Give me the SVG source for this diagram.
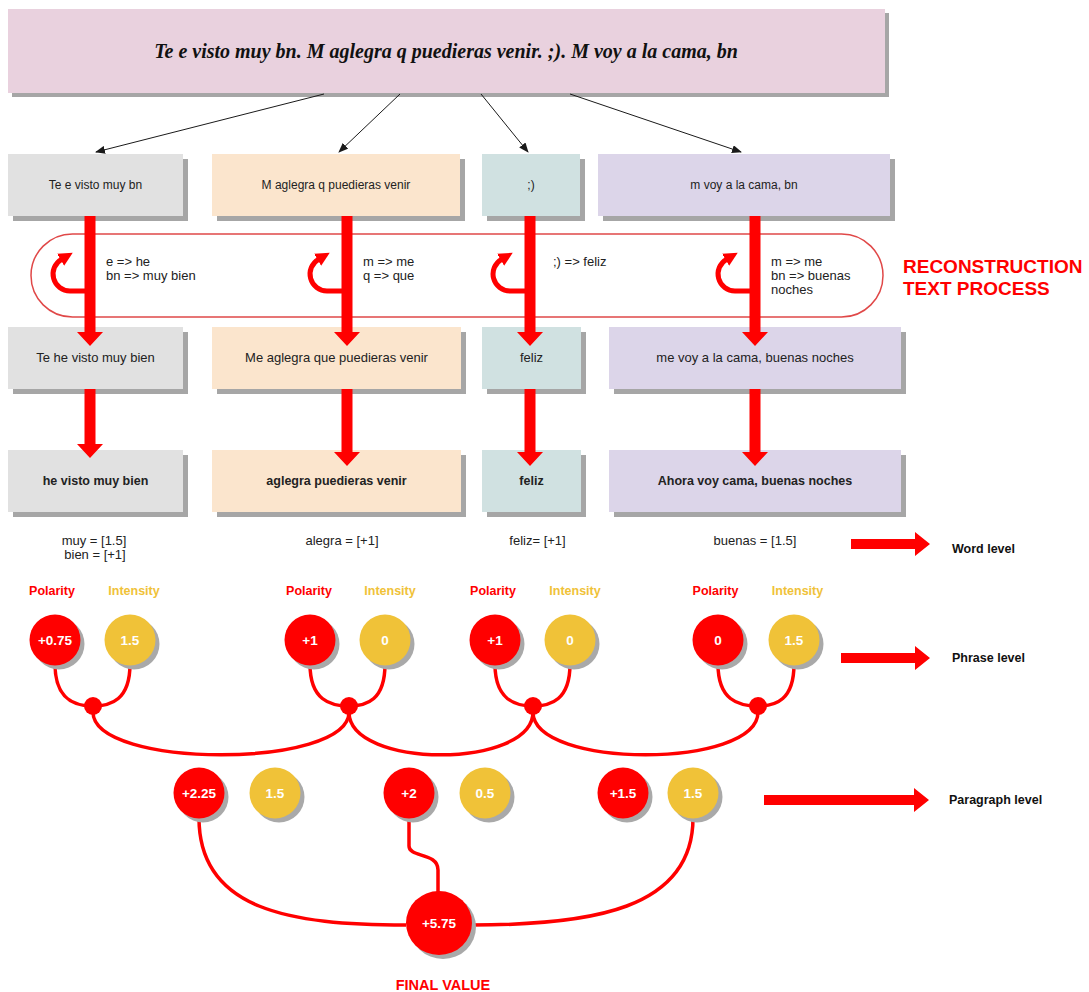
<svg xmlns="http://www.w3.org/2000/svg" width="1089" height="992" viewBox="0 0 1089 992">
<defs>
<style>
.sh{fill:#a6a6a6}
.pk{fill:#e9d1de}
.gy{fill:#e1e1e1}
.pe{fill:#fbe5cd}
.tl{fill:#d0e1e1}
.lv{fill:#dcd5e9}
.t{font-family:"Liberation Sans",Arial,sans-serif;fill:#222;text-anchor:middle}
.t1{font-size:12px}
.t2{font-size:13px}
.t3{font-size:12.5px;font-weight:bold}
.lt{font-family:"Liberation Sans",Arial,sans-serif;font-size:13px;fill:#222}
.red{fill:#ff0000}
.yel{fill:#f0c238}
.csh{fill:#a9a9a9}
.ct{font-family:"Liberation Sans",Arial,sans-serif;font-size:13.5px;font-weight:bold;fill:#fff;text-anchor:middle}
.pol{font-family:"Liberation Sans",Arial,sans-serif;font-size:12.5px;font-weight:bold;fill:#ff0000;text-anchor:middle}
.int{font-family:"Liberation Sans",Arial,sans-serif;font-size:12.5px;font-weight:bold;fill:#f0c238;text-anchor:middle}
.lvl{font-family:"Liberation Sans",Arial,sans-serif;font-size:12.5px;font-weight:bold;fill:#111}
.thin{stroke:#1a1a1a;stroke-width:1;fill:none;marker-end:url(#thinhead)}
.curl{stroke:#ff0000;stroke-width:5;fill:none;marker-end:url(#curlhead)}
.wire{stroke:#ff0000;stroke-width:3.5;fill:none}
.fat{fill:#ff0000}
</style>
<marker id="thinhead" markerUnits="userSpaceOnUse" markerWidth="10" markerHeight="8" refX="9" refY="4" orient="auto"><path d="M0,0 L10,4 L0,8 z" fill="#1a1a1a"/></marker>
<marker id="curlhead" markerUnits="userSpaceOnUse" markerWidth="16" markerHeight="16" refX="1" refY="8" orient="auto"><path d="M0,1 L14,8 L0,15 z" fill="#ff0000"/></marker>
</defs>
<rect width="1089" height="992" fill="#fff"/>

<!-- reconstruction loop -->
<g id="loop">
<rect x="31" y="234" width="852" height="83" rx="41.5" ry="41.5" fill="none" stroke="#e04848" stroke-width="1.5"/>
<text x="903" y="273" font-family="Liberation Sans,Arial,sans-serif" font-size="19" font-weight="bold" fill="#ff0000">RECONSTRUCTION</text>
<text x="903" y="295" font-family="Liberation Sans,Arial,sans-serif" font-size="19" font-weight="bold" fill="#ff0000">TEXT PROCESS</text>
<text class="lt"><tspan x="106" y="266">e =&gt; he</tspan><tspan x="106" y="280">bn =&gt; muy bien</tspan></text>
<text class="lt"><tspan x="363" y="266">m =&gt; me</tspan><tspan x="363" y="280">q =&gt; que</tspan></text>
<text class="lt"><tspan x="553" y="266">;) =&gt; feliz</tspan></text>
<text class="lt"><tspan x="771" y="266">m =&gt; me</tspan><tspan x="771" y="280">bn =&gt; buenas</tspan><tspan x="771" y="294">noches</tspan></text>
</g>

<!-- top node -->
<g id="n-top">
<rect class="sh" x="12" y="13" width="877" height="84"/>
<rect class="pk" x="8" y="9" width="877" height="84"/>
<text x="446" y="58" font-family="Liberation Serif,Times New Roman,serif" font-size="20" font-style="italic" font-weight="bold" fill="#111" text-anchor="middle">Te e visto muy bn. M aglegra q puedieras venir. ;). M voy a la cama, bn</text>
</g>

<!-- row 1 -->
<g id="n-r1c1"><rect class="sh" x="13" y="159" width="175" height="62"/><rect class="gy" x="8" y="154" width="175" height="62"/><text class="t t1" x="95.5" y="189">Te e visto muy bn</text></g>
<g id="n-r1c2"><rect class="sh" x="217" y="159" width="248" height="62"/><rect class="pe" x="212" y="154" width="248" height="62"/><text class="t t1" x="336" y="189">M aglegra q puedieras venir</text></g>
<g id="n-r1c3"><rect class="sh" x="487" y="159" width="98" height="62"/><rect class="tl" x="482" y="154" width="98" height="62"/><text class="t t1" x="531" y="189">;)</text></g>
<g id="n-r1c4"><rect class="sh" x="603" y="159" width="292" height="62"/><rect class="lv" x="598" y="154" width="292" height="62"/><text class="t t1" x="744" y="189">m voy a la cama, bn</text></g>

<!-- row 2 -->
<g id="n-r2c1"><rect class="sh" x="13" y="332" width="175" height="62"/><rect class="gy" x="8" y="327" width="175" height="62"/><text class="t t2" x="95.5" y="362">Te he visto muy bien</text></g>
<g id="n-r2c2"><rect class="sh" x="217" y="332" width="249" height="62"/><rect class="pe" x="212" y="327" width="249" height="62"/><text class="t t2" x="336.5" y="362">Me aglegra que puedieras venir</text></g>
<g id="n-r2c3"><rect class="sh" x="487" y="332" width="99" height="62"/><rect class="tl" x="482" y="327" width="99" height="62"/><text class="t t2" x="531.5" y="362">feliz</text></g>
<g id="n-r2c4"><rect class="sh" x="614" y="332" width="292" height="62"/><rect class="lv" x="609" y="327" width="292" height="62"/><text class="t t2" x="755" y="362">me voy a la cama, buenas noches</text></g>

<!-- row 3 -->
<g id="n-r3c1"><rect class="sh" x="13" y="455" width="175" height="62"/><rect class="gy" x="8" y="450" width="175" height="62"/><text class="t t3" x="95.5" y="485">he visto muy bien</text></g>
<g id="n-r3c2"><rect class="sh" x="217" y="455" width="249" height="62"/><rect class="pe" x="212" y="450" width="249" height="62"/><text class="t t3" x="336.5" y="485">aglegra puedieras venir</text></g>
<g id="n-r3c3"><rect class="sh" x="487" y="455" width="99" height="62"/><rect class="tl" x="482" y="450" width="99" height="62"/><text class="t t3" x="531.5" y="485">feliz</text></g>
<g id="n-r3c4"><rect class="sh" x="614" y="455" width="292" height="62"/><rect class="lv" x="609" y="450" width="292" height="62"/><text class="t t3" x="755" y="485">Ahora voy cama, buenas noches</text></g>

<!-- word level -->
<g id="word-level">
<text class="t t2"><tspan x="94" y="545">muy = [1.5]</tspan><tspan x="95" y="559">bien = [+1]</tspan></text>
<text class="t t2" x="342" y="545">alegra = [+1]</text>
<text class="t t2" x="537.5" y="545">feliz= [+1]</text>
<text class="t t2" x="755" y="545">buenas = [1.5]</text>
<text class="lvl" x="952" y="553">Word level</text>
<text class="lvl" x="952" y="662">Phrase level</text>
<text class="lvl" x="949" y="804">Paragraph level</text>
<text class="pol" x="52" y="595">Polarity</text><text class="int" x="134" y="595">Intensity</text>
<text class="pol" x="309" y="595">Polarity</text><text class="int" x="390" y="595">Intensity</text>
<text class="pol" x="493" y="595">Polarity</text><text class="int" x="575" y="595">Intensity</text>
<text class="pol" x="715.5" y="595">Polarity</text><text class="int" x="797.5" y="595">Intensity</text>
</g>

<!-- connectors -->
<g id="connectors">
<path class="thin" d="M324,94 L96,152"/>
<path class="thin" d="M400,94 L339,152"/>
<path class="thin" d="M481,94 L528,152"/>
<path class="thin" d="M570,94 L741,152"/>

<path class="fat" d="M84.5,216 H95.5 V332 H103 L90,346 L77,332 H84.5 Z"/>
<path class="fat" d="M341.5,216 H352.5 V332 H360 L347,346 L334,332 H341.5 Z"/>
<path class="fat" d="M524.5,216 H535.5 V332 H543 L530,346 L517,332 H524.5 Z"/>
<path class="fat" d="M749.5,216 H760.5 V332 H768 L755,346 L742,332 H749.5 Z"/>
<path class="fat" d="M84.5,389 H95.5 V444 H103 L90,458 L77,444 H84.5 Z"/>
<path class="fat" d="M341.5,389 H352.5 V452 H360 L347,466 L334,452 H341.5 Z"/>
<path class="fat" d="M524.5,389 H535.5 V452 H543 L530,466 L517,452 H524.5 Z"/>
<path class="fat" d="M749.5,389 H760.5 V452 H768 L755,466 L742,452 H749.5 Z"/>

<path class="curl" d="M86,291 L70,291 A17,17 0 0 1 61.5,259.3"/>
<path class="curl" d="M343,291 L327,291 A17,17 0 0 1 318.5,259.3"/>
<path class="curl" d="M526,291 L510,291 A17,17 0 0 1 501.5,259.3"/>
<path class="curl" d="M751,291 L735,291 A17,17 0 0 1 726.5,259.3"/>

<path class="fat" d="M851,539 H915 V532 L930,544 L915,556 V549 H851 Z"/>
<path class="fat" d="M841,653 H915 V646 L930,658 L915,670 V663 H841 Z"/>
<path class="fat" d="M764,795 H914 V788 L929,800 L914,812 V805 H764 Z"/>

<path class="wire" d="M55,664 C55,700 75,706 93,706"/>
<path class="wire" d="M130,664 C130,700 111,706 93,706"/>
<path class="wire" d="M310,664 C310,700 330,706 349,706"/>
<path class="wire" d="M385,664 C385,700 367,706 349,706"/>
<path class="wire" d="M495,664 C495,700 515,706 533,706"/>
<path class="wire" d="M570,664 C570,700 551,706 533,706"/>
<path class="wire" d="M718,664 C718,700 738,706 758,706"/>
<path class="wire" d="M794,664 C794,700 776,706 758,706"/>

<path class="wire" d="M93,712 C93,769 349,769 349,712"/>
<path class="wire" d="M349,712 C349,769 533,769 533,712"/>
<path class="wire" d="M533,712 C533,769 758,769 758,712"/>

<path class="wire" d="M199,818 C199,910 290,925 406,925"/>
<path class="wire" d="M693,818 C693,910 590,925 472,925"/>
<path class="wire" d="M409,818 V846 C409,858 438,852 438,870 V892"/>
</g>

<!-- junction dots -->
<g id="j1"><circle class="red" cx="93" cy="706" r="9"/></g>
<g id="j2"><circle class="red" cx="349" cy="706" r="9"/></g>
<g id="j3"><circle class="red" cx="533" cy="706" r="9"/></g>
<g id="j4"><circle class="red" cx="758" cy="706" r="9"/></g>

<!-- phrase level circles -->
<g id="p1-pol"><circle class="csh" cx="59" cy="644" r="25.5"/><circle class="red" cx="55" cy="640" r="25.5"/><text class="ct" x="55" y="645">+0.75</text></g>
<g id="p1-int"><circle class="csh" cx="134" cy="644" r="25.5"/><circle class="yel" cx="130" cy="640" r="25.5"/><text class="ct" x="130" y="645">1.5</text></g>
<g id="p2-pol"><circle class="csh" cx="314" cy="644" r="25.5"/><circle class="red" cx="310" cy="640" r="25.5"/><text class="ct" x="310" y="645">+1</text></g>
<g id="p2-int"><circle class="csh" cx="389" cy="644" r="25.5"/><circle class="yel" cx="385" cy="640" r="25.5"/><text class="ct" x="385" y="645">0</text></g>
<g id="p3-pol"><circle class="csh" cx="499" cy="644" r="25.5"/><circle class="red" cx="495" cy="640" r="25.5"/><text class="ct" x="495" y="645">+1</text></g>
<g id="p3-int"><circle class="csh" cx="574" cy="644" r="25.5"/><circle class="yel" cx="570" cy="640" r="25.5"/><text class="ct" x="570" y="645">0</text></g>
<g id="p4-pol"><circle class="csh" cx="722" cy="644" r="25.5"/><circle class="red" cx="718" cy="640" r="25.5"/><text class="ct" x="718" y="645">0</text></g>
<g id="p4-int"><circle class="csh" cx="798" cy="644" r="25.5"/><circle class="yel" cx="794" cy="640" r="25.5"/><text class="ct" x="794" y="645">1.5</text></g>

<!-- paragraph level circles -->
<g id="g1-pol"><circle class="csh" cx="203" cy="797" r="25.5"/><circle class="red" cx="199" cy="793" r="25.5"/><text class="ct" x="199" y="798">+2.25</text></g>
<g id="g1-int"><circle class="csh" cx="279" cy="797" r="25.5"/><circle class="yel" cx="275" cy="793" r="25.5"/><text class="ct" x="275" y="798">1.5</text></g>
<g id="g2-pol"><circle class="csh" cx="413" cy="797" r="25.5"/><circle class="red" cx="409" cy="793" r="25.5"/><text class="ct" x="409" y="798">+2</text></g>
<g id="g2-int"><circle class="csh" cx="489" cy="797" r="25.5"/><circle class="yel" cx="485" cy="793" r="25.5"/><text class="ct" x="485" y="798">0.5</text></g>
<g id="g3-pol"><circle class="csh" cx="627" cy="797" r="25.5"/><circle class="red" cx="623" cy="793" r="25.5"/><text class="ct" x="623" y="798">+1.5</text></g>
<g id="g3-int"><circle class="csh" cx="697" cy="797" r="25.5"/><circle class="yel" cx="693" cy="793" r="25.5"/><text class="ct" x="693" y="798">1.5</text></g>

<!-- final -->
<g id="final">
<ellipse class="csh" cx="443" cy="927" rx="33" ry="32"/>
<ellipse class="red" cx="439" cy="923" rx="33" ry="32"/>
<text class="ct" x="439" y="928" font-size="13">+5.75</text>
<text x="443" y="990" font-family="Liberation Sans,Arial,sans-serif" font-size="14.5" font-weight="bold" fill="#ff0000" text-anchor="middle">FINAL VALUE</text>
</g>
</svg>
